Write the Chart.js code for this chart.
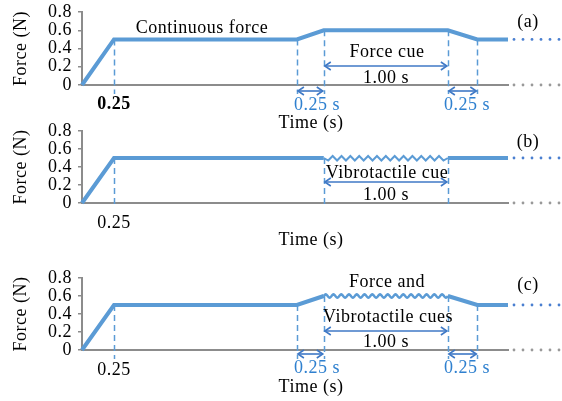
<!doctype html>
<html lang="en">
  <head>
    <meta charset="utf-8">
    <title>Force and vibrotactile cues</title>
    <script src="https://cdn.jsdelivr.net/npm/chart.js"></script>
    <style>
      body { margin: 0; background: #fff; }
      .wrap { position: relative; width: 562px; height: 401px; overflow: hidden; }
      canvas { position: absolute; left: 0; }
    </style>
  </head>
  <body>
    <div class="wrap">
      <canvas id="panelA" width="562" height="135" style="top:0px"></canvas>
      <canvas id="panelB" width="562" height="130" style="top:120px"></canvas>
      <canvas id="panelC" width="562" height="146" style="top:255px"></canvas>
    </div>

    <script>
        // values
        const yTicks = [0, 0.2, 0.4, 0.6, 0.8];
        const yLabels = ['0', '0.2', '0.4', '0.6', '0.8'];
        const xTicks = [0.25];
        const xLabels = ['0.25'];
        const timeMax = 3.33;

        // (a) force cue
        const timeA = [0, 0.25, 1.68, 1.89, 2.86, 3.09, 3.33];
        const forceA = [0, 0.5, 0.5, 0.6, 0.6, 0.5, 0.5];
        const marksA = [0.25, 1.68, 1.89, 2.86, 3.09];

        // (b) vibrotactile cue (gap is where the vibration is drawn)
        const timeB = [0, 0.25, 1.89, 1.89, 2.86, 3.33];
        const forceB = [0, 0.5, 0.5, null, 0.5, 0.5];
        const marksB = [0.25, 1.89, 2.86];
        const vibB = [1.89, 2.86, 0.5];

        // (c) force and vibrotactile cues
        const timeC = [0, 0.25, 1.68, 1.89, 1.89, 2.86, 3.09, 3.33];
        const forceC = [0, 0.5, 0.5, 0.6, null, 0.6, 0.5, 0.5];
        const marksC = [0.25, 1.68, 1.89, 2.86, 3.09];
        const vibC = [1.89, 2.86, 0.6];

        const lineBlue = '#5b9bd5';
        const arrowBlue = '#3f79c6';
        const textBlue = '#2f80cf';
        const axisGrey = '#8c8c8c';
        const serif = '"Liberation Serif", "Times New Roman", serif';
        const spacing = '0.5px';

        Chart.defaults.font.family = serif;
        Chart.defaults.font.size = 18;
        Chart.defaults.color = '#000';

        function levelAt(t, times, forces) {
            let lv = 0;
            times.forEach((v, i) => { if (v === t && forces[i] !== null) lv = Math.max(lv, forces[i]); });
            return lv;
        }

        function arrowHead(ctx, x, y, dir) {
            ctx.beginPath();
            ctx.moveTo(x + dir * 6, y - 4);
            ctx.lineTo(x, y);
            ctx.lineTo(x + dir * 6, y + 4);
            ctx.stroke();
        }

        const cues = {
            id: 'cues',
            beforeUpdate(chart) { chart.ctx.letterSpacing = spacing; },
            beforeDraw(chart) { chart.ctx.letterSpacing = spacing; },
            beforeDatasetsDraw(chart, args, o) {
                const ctx = chart.ctx;
                const xs = chart.scales.x, ys = chart.scales.y;
                const axisY = ys.getPixelForValue(0);
                ctx.save();
                ctx.strokeStyle = lineBlue;
                ctx.lineWidth = 1.5;
                ctx.setLineDash([6, 4]);
                o.marks.forEach(t => {
                    const x = Math.round(xs.getPixelForValue(t)) + 0.5;
                    ctx.beginPath();
                    ctx.moveTo(x, ys.getPixelForValue(levelAt(t, o.times, o.forces)));
                    ctx.lineTo(x, axisY + o.below);
                    ctx.stroke();
                });
                ctx.restore();
            },
            afterDatasetsDraw(chart, args, o) {
                const ctx = chart.ctx;
                const xs = chart.scales.x, ys = chart.scales.y;
                const axisY = ys.getPixelForValue(0);
                const right = xs.getPixelForValue(timeMax);
                const endY = ys.getPixelForValue(o.forces[o.forces.length - 1]);
                ctx.save();

                // vibration drawn on the line
                if (o.vib) {
                    const x0 = xs.getPixelForValue(o.vib[0]), x1 = xs.getPixelForValue(o.vib[1]);
                    const y = ys.getPixelForValue(o.vib[2]);
                    ctx.strokeStyle = lineBlue;
                    ctx.lineWidth = o.zig ? 2 : 2.5;
                    ctx.beginPath();
                    if (o.zig) {
                        const n = 28;
                        for (let i = 0; i <= n; i++) {
                            const x = x0 + (x1 - x0) * i / n;
                            const dy = i === 0 || i === n ? 0 : (i % 2 ? 2.5 : -2);
                            i ? ctx.lineTo(x, y + dy) : ctx.moveTo(x, y);
                        }
                    } else {
                        const n = 320, waves = 16;
                        for (let i = 0; i <= n; i++) {
                            const x = x0 + (x1 - x0) * i / n;
                            const dy = -1.6 * Math.sin(i / n * waves * 2 * Math.PI);
                            i ? ctx.lineTo(x, y + dy) : ctx.moveTo(x, y);
                        }
                    }
                    ctx.stroke();
                }

                // dotted continuation past the plot
                for (let x = right + 6; x < 562; x += 9) {
                    ctx.fillStyle = '#4a7fd0';
                    ctx.beginPath(); ctx.arc(x, endY, 1.4, 0, Math.PI * 2); ctx.fill();
                    ctx.fillStyle = '#999';
                    ctx.beginPath(); ctx.arc(x, axisY, 1.4, 0, Math.PI * 2); ctx.fill();
                }

                // double arrows
                ctx.strokeStyle = arrowBlue;
                ctx.lineWidth = 1.6;
                o.arrows.forEach(a => {
                    const xa = xs.getPixelForValue(a[0]) + 1, xb = xs.getPixelForValue(a[1]) - 1;
                    ctx.beginPath(); ctx.moveTo(xa, a[2]); ctx.lineTo(xb, a[2]); ctx.stroke();
                    arrowHead(ctx, xa, a[2], 1);
                    arrowHead(ctx, xb, a[2], -1);
                });

                // texts
                ctx.letterSpacing = spacing;
                ctx.font = '18px ' + serif;
                ctx.textAlign = 'center';
                ctx.textBaseline = 'middle';
                o.texts.forEach(t => {
                    ctx.fillStyle = t[3] || '#000';
                    ctx.fillText(t[0], t[1], t[2]);
                });
                ctx.restore();
            }
        };

        function makePanel(id, times, forces, opts) {
            const h = document.getElementById(id).height;
            return new Chart(document.getElementById(id), {
                type: 'line',
                data: {
                    datasets: [{
                        data: times.map((t, i) => ({ x: t, y: forces[i] })),
                        borderColor: lineBlue,
                        borderWidth: 4,
                        pointRadius: 0,
                        tension: 0,
                        spanGaps: false,
                        clip: false
                    }]
                },
                options: {
                    responsive: false,
                    animation: false,
                    events: [],
                    layout: { padding: { top: opts.top, right: 562 - 508, bottom: 0, left: 0 } },
                    plugins: {
                        legend: { display: false },
                        tooltip: { enabled: false },
                        cues: opts.cues
                    },
                    scales: {
                        x: {
                            type: 'linear',
                            min: 0,
                            max: timeMax,
                            afterBuildTicks: s => { s.ticks = xTicks.map(v => ({ value: v })); },
                            afterFit: s => { s.height = h - opts.bottom; s.paddingLeft = 0; s.paddingRight = 0; },
                            grid: { display: false, drawTicks: false },
                            border: { display: true, color: axisGrey, width: 2 },
                            ticks: {
                                padding: 9,
                                maxRotation: 0,
                                autoSkip: false,
                                font: { weight: opts.boldTick ? 'bold' : 'normal' },
                                callback: (v, i) => xLabels[i]
                            }
                        },
                        y: {
                            min: 0,
                            max: 0.8,
                            afterBuildTicks: s => { s.ticks = yTicks.map(v => ({ value: v })); },
                            afterFit: s => { s.width = 82; s.paddingTop = 0; s.paddingBottom = 0; },
                            grid: { drawOnChartArea: false, drawTicks: true, tickLength: 4, color: axisGrey, lineWidth: 1.5 },
                            border: { display: true, color: axisGrey, width: 2 },
                            ticks: { padding: 6, autoSkip: false, callback: (v, i) => yLabels[i] },
                            title: { display: true, text: 'Force (N)', padding: { top: 10, bottom: 0 } }
                        }
                    }
                },
                plugins: [cues]
            });
        }

        makePanel('panelA', timeA, forceA, {
            top: 12, bottom: 85, boldTick: true,
            cues: {
                times: timeA, forces: forceA, marks: marksA, below: 9,
                arrows: [[1.89, 2.86, 66], [1.68, 1.89, 91], [2.86, 3.09, 91]],
                texts: [
                    ['Continuous force', 202, 28],
                    ['Force cue', 387, 52],
                    ['1.00 s', 386, 78],
                    ['0.25 s', 317, 105, textBlue],
                    ['0.25 s', 467, 105, textBlue],
                    ['(a)', 528, 22],
                    ['Time (s)', 311, 123]
                ]
            }
        });

        makePanel('panelB', timeB, forceB, {
            top: 11, bottom: 83,
            cues: {
                times: timeB, forces: forceB, marks: marksB, below: 1,
                vib: vibB, zig: true,
                arrows: [[1.89, 2.86, 62]],
                texts: [
                    ['Vibrotactile cue', 387, 53],
                    ['1.00 s', 386, 75],
                    ['(b)', 528, 22],
                    ['Time (s)', 311, 120]
                ]
            }
        });

        makePanel('panelC', timeC, forceC, {
            top: 23, bottom: 95,
            cues: {
                times: timeC, forces: forceC, marks: marksC, below: 9,
                vib: vibC, zig: false,
                arrows: [[1.89, 2.86, 76], [1.68, 1.89, 99], [2.86, 3.09, 99]],
                texts: [
                    ['Force and', 387, 27],
                    ['Vibrotactile cues', 388, 62],
                    ['1.00 s', 386, 87],
                    ['0.25 s', 317, 113, textBlue],
                    ['0.25 s', 467, 113, textBlue],
                    ['(c)', 528, 30],
                    ['Time (s)', 311, 132]
                ]
            }
        });
    </script>
  </body>
</html>
